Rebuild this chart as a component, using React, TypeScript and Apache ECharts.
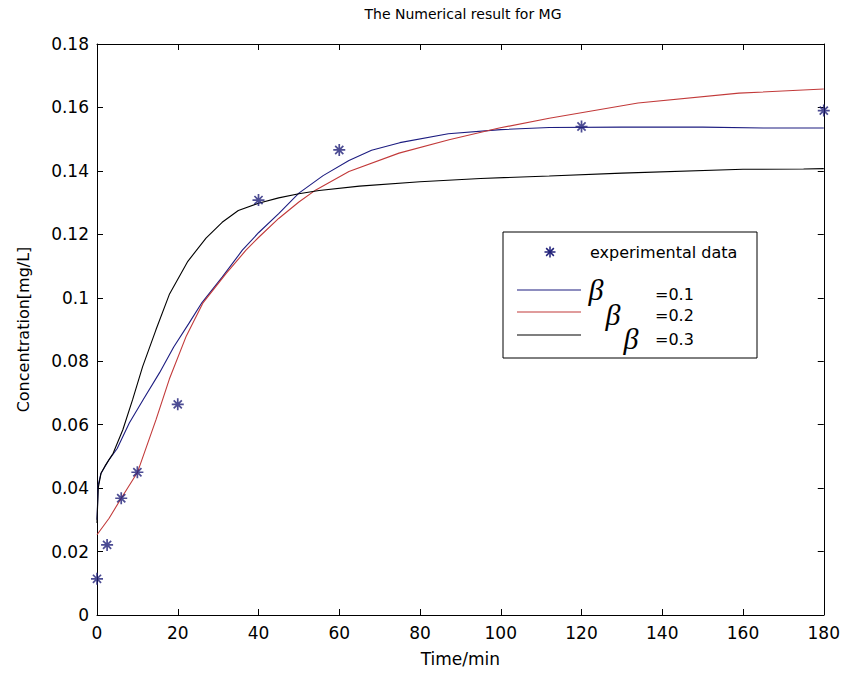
import React, { useEffect, useRef } from "react";
import * as echarts from "echarts";

// ---------- data ----------
const expTime = [0, 2.5, 6, 10, 20, 40, 60, 120, 180];
const expConc = [0.0114, 0.0221, 0.0368, 0.045, 0.0664, 0.1308, 0.1466, 0.154, 0.159];

const b1Time = [0, 0.3, 1, 3, 5, 8, 11.5, 15.5, 19, 22.8, 26, 31, 36, 40, 45, 50, 56, 62.4, 68, 75, 87, 100, 112, 130, 150, 165, 180];
const b1Conc = [0.030, 0.041, 0.0447, 0.049, 0.0525, 0.0605, 0.068, 0.0764, 0.0845, 0.092, 0.0985, 0.1065, 0.115, 0.1205, 0.1265, 0.133, 0.1385, 0.1433, 0.1465, 0.1489, 0.1517, 0.153, 0.1537, 0.1538, 0.1538, 0.1535, 0.1535];

const b2Time = [0, 3, 6, 10, 14.6, 17.9, 22.1, 26.2, 32, 36.9, 40, 45, 50, 54.2, 62.4, 74.8, 87.2, 99.6, 112, 134, 159, 180];
const b2Conc = [0.0253, 0.0305, 0.0368, 0.0449, 0.0615, 0.0743, 0.0879, 0.0983, 0.1077, 0.115, 0.119, 0.125, 0.1302, 0.134, 0.1398, 0.1456, 0.1498, 0.1535, 0.1566, 0.1614, 0.1645, 0.1658];

const b3Time = [0, 0.3, 1, 2, 4, 6.4, 8.8, 11.3, 14.6, 17.9, 22.5, 27, 31, 35, 40, 45, 50, 55, 65, 80, 95, 112, 130, 160, 175, 180];
const b3Conc = [0.029, 0.040, 0.0447, 0.047, 0.051, 0.0584, 0.0678, 0.0783, 0.0899, 0.101, 0.1115, 0.1188, 0.1238, 0.1275, 0.1298, 0.1315, 0.1328, 0.1338, 0.1352, 0.1366, 0.1376, 0.1384, 0.1393, 0.1405, 0.1406, 0.1407];

const legendLabels = ["experimental data", "=0.1", "=0.2", "=0.3"];
const titleText = "The Numerical result for MG";
const xName = "Time/min";
const yName = "Concentration[mg/L]";

const zip = (a: number[], b: number[]) => a.map((v, i) => [v, b[i]]);

const FONT = "'DejaVu Sans', sans-serif";
const BLUE = "#1c1c80";
const RED = "#c23a3a";
const BLACK = "#000000";
const STAR = "#1f1f78";

const starPath = "path://M5 0L5 10M0 5L10 5M1.6 1.6L8.4 8.4M1.6 8.4L8.4 1.6";

export default function App() {
  const ref = useRef<HTMLDivElement>(null);
  useEffect(() => {
    if (!ref.current) return;
    const chart = echarts.init(ref.current, null, { renderer: "svg" });
    const axisCommon = {
      type: "value" as const,
      axisLine: { show: true, onZero: false, lineStyle: { color: "#000", width: 1 } },
      axisTick: { show: true, inside: true, length: 6, lineStyle: { color: "#000", width: 1 } },
      splitLine: { show: false },
    };
    const starLines = (cx: number, cy: number, r: number) => {
      const d = r * 0.7;
      return [
        [cx - r, cy, cx + r, cy],
        [cx, cy - r, cx, cy + r],
        [cx - d, cy - d, cx + d, cy + d],
        [cx - d, cy + d, cx + d, cy - d],
      ].map((s) => ({
        type: "line",
        z: 101,
        shape: { x1: s[0], y1: s[1], x2: s[2], y2: s[3] },
        style: { stroke: STAR, lineWidth: 1.5 },
      }));
    };
    const betaFont = "italic 30px 'Liberation Serif', 'DejaVu Serif', serif";
    const lineSeries = (t: number[], c: number[], color: string) => ({
      type: "line",
      data: zip(t, c),
      showSymbol: false,
      symbol: "none",
      lineStyle: { color, width: 1.1 },
      z: 3,
    });
    chart.setOption({
      animation: false,
      backgroundColor: "#ffffff",
      grid: { left: 97, right: 18, top: 44, bottom: 62 },
      xAxis: [
        {
          ...axisCommon,
          position: "bottom",
          min: 0,
          max: 180,
          interval: 20,
          axisLabel: { color: "#000", fontSize: 17, fontFamily: FONT, margin: 9 },
          name: xName,
          nameLocation: "middle",
          nameGap: 35,
          nameTextStyle: { color: "#000", fontSize: 17, fontFamily: FONT },
        },
        {
          ...axisCommon,
          position: "top",
          min: 0,
          max: 180,
          interval: 20,
          axisLabel: { show: false },
        },
      ],
      yAxis: [
        {
          ...axisCommon,
          position: "left",
          min: 0,
          max: 0.18,
          interval: 0.02,
          axisLabel: {
            color: "#000",
            fontSize: 17,
            fontFamily: FONT,
            margin: 8,
            formatter: (v: number) => String(+v.toFixed(2)),
          },
          name: yName,
          nameLocation: "middle",
          nameGap: 66,
          nameTextStyle: { color: "#000", fontSize: 16, fontFamily: FONT },
        },
        {
          ...axisCommon,
          position: "right",
          min: 0,
          max: 0.18,
          interval: 0.02,
          axisLabel: { show: false },
        },
      ],
      series: [
        lineSeries(b1Time, b1Conc, BLUE),
        lineSeries(b2Time, b2Conc, RED),
        lineSeries(b3Time, b3Conc, BLACK),
        {
          type: "scatter",
          data: zip(expTime, expConc),
          symbol: starPath,
          symbolSize: 12,
          itemStyle: { color: "rgba(0,0,0,0)", borderColor: STAR, borderWidth: 1.7 },
          z: 4,
        },
      ],
      graphic: [
        {
          type: "text",
          x: 463,
          y: 14,
          style: {
            text: titleText,
            fill: "#000",
            font: "14px 'DejaVu Sans', sans-serif",
            textAlign: "center",
            textVerticalAlign: "middle",
          },
        },
        {
          type: "rect",
          z: 100,
          shape: { x: 503, y: 232, width: 254, height: 126 },
          style: { fill: "#fff", stroke: "#000", lineWidth: 1 },
        },
        ...starLines(550, 252, 5.5),
        {
          type: "text",
          z: 101,
          x: 590,
          y: 252,
          style: { text: legendLabels[0], fill: "#000", font: "16px 'DejaVu Sans', sans-serif", textVerticalAlign: "middle" },
        },
        {
          type: "line",
          z: 101,
          shape: { x1: 517, y1: 290, x2: 581, y2: 290 },
          style: { stroke: BLUE, lineWidth: 1.1 },
        },
        {
          type: "line",
          z: 101,
          shape: { x1: 517, y1: 312, x2: 581, y2: 312 },
          style: { stroke: RED, lineWidth: 1.1 },
        },
        {
          type: "line",
          z: 101,
          shape: { x1: 517, y1: 335, x2: 581, y2: 335 },
          style: { stroke: BLACK, lineWidth: 1.1 },
        },
        {
          type: "text",
          z: 101,
          x: 596,
          y: 289,
          style: { text: "β", fill: "#000", font: betaFont, textAlign: "center", textVerticalAlign: "middle" },
        },
        {
          type: "text",
          z: 101,
          x: 613,
          y: 314,
          style: { text: "β", fill: "#000", font: betaFont, textAlign: "center", textVerticalAlign: "middle" },
        },
        {
          type: "text",
          z: 101,
          x: 631,
          y: 338,
          style: { text: "β", fill: "#000", font: betaFont, textAlign: "center", textVerticalAlign: "middle" },
        },
        {
          type: "text",
          z: 101,
          x: 655,
          y: 294,
          style: { text: legendLabels[1], fill: "#000", font: "16px 'DejaVu Sans', sans-serif", textVerticalAlign: "middle" },
        },
        {
          type: "text",
          z: 101,
          x: 655,
          y: 315,
          style: { text: legendLabels[2], fill: "#000", font: "16px 'DejaVu Sans', sans-serif", textVerticalAlign: "middle" },
        },
        {
          type: "text",
          z: 101,
          x: 655,
          y: 339,
          style: { text: legendLabels[3], fill: "#000", font: "16px 'DejaVu Sans', sans-serif", textVerticalAlign: "middle" },
        },
      ],
    });
    return () => chart.dispose();
  }, []);
  return (
    <div
      ref={ref}
      style={{ position: "fixed", left: 0, top: 0, width: 843, height: 677, background: "#fff" }}
    />
  );
}
